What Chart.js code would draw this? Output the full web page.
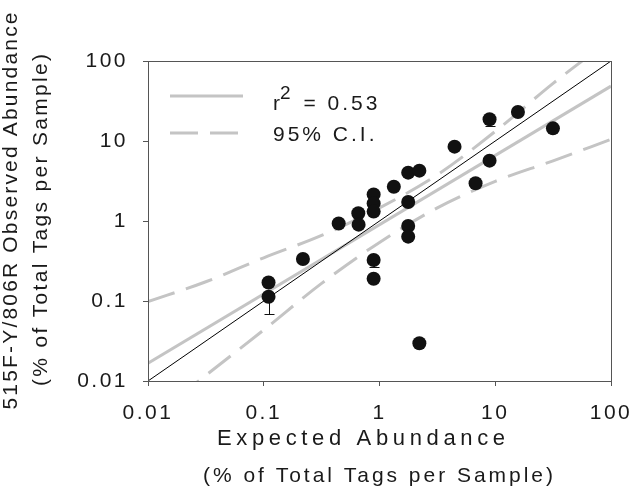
<!DOCTYPE html>
<html>
<head>
<meta charset="utf-8">
<script src="https://cdn.jsdelivr.net/npm/chart.js@4.4.0/dist/chart.umd.min.js"></script>
<style>
html, body { margin: 0; padding: 0; background: #fff; }
#wrap { width: 635px; height: 498px; }
</style>
</head>
<body>
<div id="wrap"><canvas id="myChart" width="635" height="498"></canvas></div>
<script>
// expected vs observed abundance, % of total tags per sample
var expected = [0.11, 0.11, 0.218, 0.444, 0.656, 0.66, 0.89, 0.89, 0.89, 0.89, 0.89, 1.33,
                1.77, 2.21, 1.77, 1.77, 1.77, 2.21, 4.45, 6.76, 8.93, 8.93, 15.7, 31.5];
var observed = [0.17, 0.113, 0.335, 0.93, 1.25, 0.90, 2.15, 1.66, 1.31, 0.325, 0.19, 2.68,
                4.02, 4.26, 1.73, 0.866, 0.637, 0.0296, 8.5, 2.96, 18.7, 5.68, 23.0, 14.4];
// lower ends of the few error bars that show
var errIndex = [1, 9, 20];
var errLow = [0.068, 0.268, 15.4];

// regression line and 95% CI
var fitX = [0.01, 100];
var fitY = [0.0167, 48.5];
var ciUpX = [0.01, 0.0316, 0.1, 0.316, 1, 3.16, 10, 31.6, 56.2];
var ciUpY = [0.098, 0.174, 0.347, 0.66, 1.46, 3.78, 13.2, 52.5, 100];
var ciLoX = [0.0178, 0.1, 0.316, 1, 3.16, 10, 31.6, 100];
var ciLoY = [0.00617, 0.0435, 0.166, 0.54, 1.46, 3.13, 5.65, 10.5];
var idealX = [0.01, 100];
var idealY = [0.01, 100];

var tickVals = [0.01, 0.1, 1, 10, 100];
var fitLabel = '0.53';
var ciLabel = '95% C.I.';
var xTitle = ['Expected Abundance', '(% of Total Tags per Sample)'];
var yTitle = ['515F-Y/806R Observed Abundance', '(% of Total Tags per Sample)'];

var grey = '#c4c4c4';
var ink = '#1a1a1a';
var fnt = '"Liberation Sans", Arial, sans-serif';

function pts(xs, ys) {
    var out = [];
    for (var i = 0; i < xs.length; i++) {
        out.push({x: xs[i], y: ys[i]});
    }
    return out;
}

// text stretched to a given width with letter spacing, like the original figure
function spreadText(ctx, str, cx, cy, width) {
    ctx.letterSpacing = '0px';
    var nat = ctx.measureText(str).width;
    var sp = (width - nat) / (str.length - 1);
    ctx.letterSpacing = sp + 'px';
    ctx.fillText(str, cx + sp / 2, cy);
}

var spacing = {
    id: 'spacing',
    beforeDraw: function (chart) {
        chart.ctx.letterSpacing = '2.5px';
    }
};

var extras = {
    id: 'extras',
    beforeDatasetsDraw: function (chart) {
        var ctx = chart.ctx, xs = chart.scales.x, ys = chart.scales.y;
        ctx.save();
        ctx.strokeStyle = '#111';
        ctx.lineWidth = 1;
        for (var i = 0; i < errIndex.length; i++) {
            var k = errIndex[i];
            var px = Math.round(xs.getPixelForValue(expected[k])) + 0.5;
            var p0 = ys.getPixelForValue(observed[k]);
            var p1 = Math.round(ys.getPixelForValue(errLow[i])) + 0.5;
            ctx.beginPath();
            ctx.moveTo(px, p0);
            ctx.lineTo(px, p1);
            ctx.moveTo(px - 5, p1);
            ctx.lineTo(px + 5, p1);
            ctx.stroke();
        }
        ctx.restore();
    },
    afterDraw: function (chart) {
        var ctx = chart.ctx, a = chart.chartArea;
        ctx.save();
        // frame
        ctx.strokeStyle = '#555';
        ctx.lineWidth = 1;
        ctx.strokeRect(Math.round(a.left) + 0.5, Math.round(a.top) + 0.5,
                       Math.round(a.right - a.left), Math.round(a.bottom - a.top));
        // legend
        var lx = a.left + 22, ly1 = a.top + 35, ly2 = a.top + 72;
        ctx.strokeStyle = grey;
        ctx.lineWidth = 3;
        ctx.beginPath();
        ctx.moveTo(lx, ly1);
        ctx.lineTo(lx + 73, ly1);
        ctx.stroke();
        ctx.setLineDash([28, 12]);
        ctx.beginPath();
        ctx.moveTo(lx, ly2);
        ctx.lineTo(lx + 73, ly2);
        ctx.stroke();
        ctx.setLineDash([]);
        ctx.fillStyle = ink;
        ctx.textBaseline = 'alphabetic';
        ctx.textAlign = 'left';
        ctx.letterSpacing = '3px';
        var tx = a.left + 125;
        ctx.font = '21px ' + fnt;
        ctx.fillText('r', tx, ly1 + 14);
        var w = ctx.measureText('r').width;
        ctx.font = '19px ' + fnt;
        ctx.fillText('2', tx + w - 3, ly1 + 3);
        var w2 = ctx.measureText('2').width;
        ctx.font = '21px ' + fnt;
        ctx.fillText(' = ' + fitLabel, tx + w + w2 - 2, ly1 + 14);
        ctx.fillText(ciLabel, tx, ly2 + 8);

        // axis titles
        ctx.textAlign = 'center';
        ctx.textBaseline = 'middle';
        ctx.font = '22px ' + fnt;
        spreadText(ctx, xTitle[0], 361, 439, 288);
        ctx.font = '21px ' + fnt;
        spreadText(ctx, xTitle[1], 378, 476, 350);
        ctx.save();
        ctx.translate(11, 211);
        ctx.rotate(-Math.PI / 2);
        spreadText(ctx, yTitle[0], 0, 0, 397);
        ctx.restore();
        ctx.save();
        ctx.translate(41, 220);
        ctx.rotate(-Math.PI / 2);
        spreadText(ctx, yTitle[1], 0, 0, 332);
        ctx.restore();
        ctx.restore();
    }
};

var axisCommon = {
    type: 'logarithmic',
    min: 0.01,
    max: 100,
    grid: { drawOnChartArea: false, drawTicks: true, tickLength: 5, color: '#555', lineWidth: 1 },
    border: { display: true, color: '#555', width: 1 },
    title: { display: false },
    afterBuildTicks: function (scale) {
        scale.ticks = tickVals.map(function (v) { return {value: v}; });
    }
};

var ctx = document.getElementById('myChart');
var myChart = new Chart(ctx, {
    type: 'scatter',
    data: {
        datasets: [{
            label: 'samples',
            data: pts(expected, observed),
            backgroundColor: '#111',
            borderWidth: 0,
            pointRadius: 7,
            order: 0
        }, {
            label: '1:1',
            data: pts(idealX, idealY),
            showLine: true,
            borderColor: '#000',
            borderWidth: 1,
            pointRadius: 0,
            order: 1
        }, {
            label: 'fit',
            data: pts(fitX, fitY),
            showLine: true,
            borderColor: grey,
            borderWidth: 3,
            pointRadius: 0,
            order: 2
        }, {
            label: 'ci upper',
            data: pts(ciUpX, ciUpY),
            showLine: true,
            borderColor: grey,
            borderWidth: 3,
            borderDash: [28, 12],
            cubicInterpolationMode: 'monotone',
            pointRadius: 0,
            order: 3
        }, {
            label: 'ci lower',
            data: pts(ciLoX, ciLoY),
            showLine: true,
            borderColor: grey,
            borderWidth: 3,
            borderDash: [28, 12],
            cubicInterpolationMode: 'monotone',
            pointRadius: 0,
            order: 4
        }]
    },
    options: {
        responsive: false,
        animation: false,
        layout: { padding: { top: 61, right: 24, left: 0, bottom: 0 } },
        plugins: { legend: { display: false }, tooltip: { enabled: false } },
        scales: {
            x: Object.assign({}, axisCommon, {
                position: 'bottom',
                ticks: { color: ink, font: { family: fnt, size: 21 }, padding: 15, maxRotation: 0,
                         callback: function (v) { return String(v); } },
                afterFit: function (s) {
                    s.height = 117;
                    s.paddingLeft = 0;
                    s.paddingRight = 0;
                }
            }),
            y: Object.assign({}, axisCommon, {
                position: 'left',
                ticks: { color: ink, font: { family: fnt, size: 21 }, padding: 15,
                         callback: function (v) { return String(v); } },
                afterFit: function (s) {
                    s.width = 148;
                    s.paddingTop = 0;
                    s.paddingBottom = 0;
                }
            })
        }
    },
    plugins: [spacing, extras]
});
</script>
</body>
</html>
